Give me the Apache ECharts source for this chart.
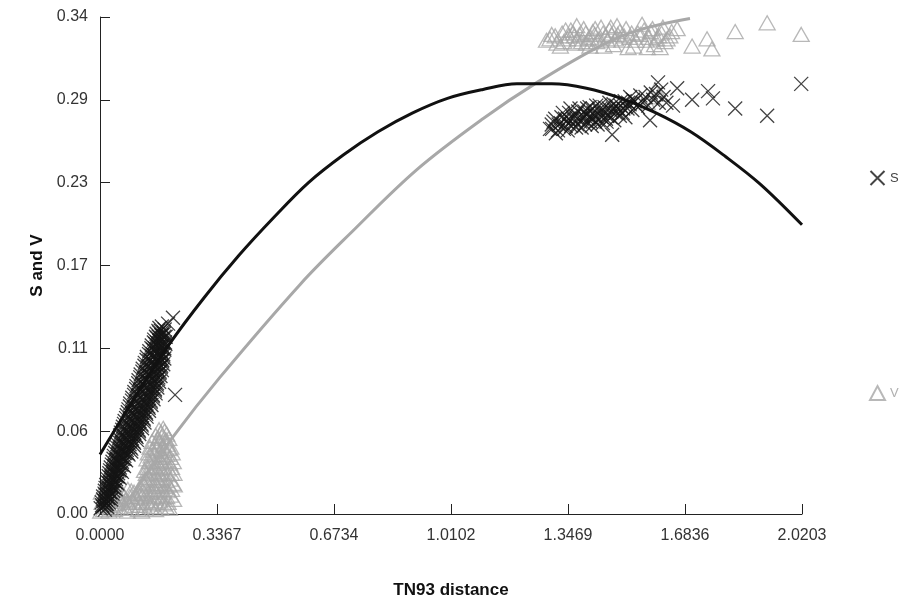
<!DOCTYPE html>
<html>
<head>
<meta charset="utf-8">
<script src="https://cdn.jsdelivr.net/npm/echarts@6/dist/echarts.min.js"></script>
<style>
  html, body { margin: 0; padding: 0; background: #fff; }
  #chart { width: 906px; height: 604px; }
</style>
</head>
<body>
<div id="chart"></div>
<script>
// tick labels as printed on the original axes
const xTickLabels = ['0.0000', '0.3367', '0.6734', '1.0102', '1.3469', '1.6836', '2.0203'];
const yTickLabels = ['0.00', '0.06', '0.11', '0.17', '0.23', '0.29', '0.34'];

// S values (x = TN93 distance, y = S), lower cluster
const sLow = [
  [0.002,0.004],[0.008,0.005],[0.014,0.003],[0.020,0.005],
  [0.005,0.008],[0.012,0.009],[0.018,0.007],[0.025,0.008],
  [0.009,0.012],[0.016,0.013],[0.023,0.011],[0.031,0.012],
  [0.014,0.016],[0.022,0.017],[0.030,0.015],[0.038,0.016],
  [0.018,0.020],[0.026,0.021],[0.034,0.019],[0.041,0.020],[0.046,0.022],
  [0.022,0.024],[0.031,0.025],[0.039,0.023],[0.046,0.024],[0.052,0.026],
  [0.027,0.028],[0.036,0.029],[0.044,0.027],[0.052,0.028],[0.059,0.030],
  [0.031,0.032],[0.040,0.033],[0.049,0.031],[0.057,0.032],[0.065,0.034],
  [0.036,0.036],[0.046,0.037],[0.055,0.035],[0.063,0.036],[0.071,0.038],
  [0.040,0.040],[0.051,0.041],[0.061,0.039],[0.070,0.040],[0.079,0.042],
  [0.045,0.044],[0.056,0.045],[0.067,0.043],[0.077,0.044],[0.087,0.046],
  [0.050,0.048],[0.062,0.049],[0.074,0.047],[0.085,0.048],[0.096,0.050],
  [0.055,0.052],[0.068,0.053],[0.080,0.051],[0.092,0.052],[0.103,0.054],
  [0.060,0.056],[0.074,0.057],[0.087,0.055],[0.099,0.056],[0.111,0.058],
  [0.066,0.060],[0.080,0.061],[0.094,0.059],[0.107,0.060],[0.119,0.062],
  [0.071,0.064],[0.086,0.065],[0.100,0.063],[0.113,0.064],[0.125,0.066],
  [0.077,0.068],[0.092,0.069],[0.106,0.067],[0.119,0.068],[0.132,0.070],
  [0.082,0.072],[0.097,0.073],[0.112,0.071],[0.125,0.072],[0.139,0.074],
  [0.087,0.076],[0.103,0.077],[0.118,0.075],[0.132,0.076],[0.146,0.078],
  [0.093,0.080],[0.109,0.081],[0.124,0.079],[0.138,0.080],[0.152,0.082],
  [0.099,0.084],[0.115,0.085],[0.130,0.083],[0.144,0.084],[0.158,0.086],
  [0.105,0.088],[0.121,0.089],[0.136,0.087],[0.150,0.088],[0.164,0.090],
  [0.111,0.092],[0.126,0.093],[0.141,0.091],[0.155,0.092],[0.168,0.094],
  [0.117,0.096],[0.132,0.097],[0.146,0.095],[0.160,0.096],[0.172,0.098],
  [0.123,0.100],[0.137,0.101],[0.151,0.099],[0.164,0.100],[0.176,0.102],
  [0.129,0.104],[0.142,0.105],[0.156,0.103],[0.168,0.104],[0.179,0.106],
  [0.135,0.108],[0.148,0.109],[0.161,0.107],[0.172,0.108],[0.182,0.110],
  [0.142,0.112],[0.153,0.113],[0.165,0.111],[0.175,0.112],[0.185,0.114],
  [0.149,0.116],[0.159,0.117],[0.169,0.115],[0.178,0.116],[0.187,0.118],
  [0.156,0.120],[0.164,0.121],[0.173,0.119],[0.181,0.120],[0.189,0.122],
  [0.163,0.124],[0.170,0.125],[0.177,0.123],[0.184,0.124],
  [0.171,0.128],[0.178,0.129],[0.186,0.127],
  [0.196,0.131],[0.210,0.135],[0.216,0.082],
  [0.006,0.006],[0.013,0.006],[0.020,0.007],
  [0.009,0.010],[0.017,0.010],[0.025,0.011],[0.032,0.010],
  [0.013,0.014],[0.020,0.014],[0.028,0.015],[0.036,0.014],
  [0.016,0.018],[0.024,0.018],[0.031,0.019],[0.039,0.018],[0.045,0.017],
  [0.021,0.022],[0.029,0.022],[0.036,0.023],[0.044,0.022],[0.050,0.021],
  [0.025,0.026],[0.033,0.026],[0.041,0.027],[0.049,0.026],[0.056,0.025],
  [0.029,0.030],[0.038,0.030],[0.047,0.031],[0.055,0.030],[0.063,0.029],
  [0.034,0.034],[0.043,0.034],[0.052,0.035],[0.061,0.034],[0.069,0.033],
  [0.039,0.038],[0.048,0.038],[0.058,0.039],[0.067,0.038],[0.075,0.037],
  [0.044,0.042],[0.054,0.042],[0.064,0.043],[0.073,0.042],[0.082,0.041],[0.090,0.043],
  [0.048,0.046],[0.059,0.046],[0.070,0.047],[0.080,0.046],[0.090,0.045],[0.098,0.047],
  [0.053,0.050],[0.064,0.050],[0.076,0.051],[0.087,0.050],[0.098,0.049],[0.106,0.051],
  [0.058,0.054],[0.070,0.054],[0.082,0.055],[0.094,0.054],[0.105,0.053],[0.113,0.055],
  [0.064,0.058],[0.077,0.058],[0.089,0.059],[0.101,0.058],[0.112,0.057],[0.121,0.059],
  [0.069,0.062],[0.082,0.062],[0.095,0.063],[0.108,0.062],[0.120,0.061],[0.128,0.063],
  [0.075,0.066],[0.088,0.066],[0.101,0.067],[0.114,0.066],[0.126,0.065],[0.134,0.067],
  [0.080,0.070],[0.094,0.070],[0.107,0.071],[0.120,0.070],[0.133,0.069],[0.141,0.071],
  [0.086,0.074],[0.100,0.074],[0.113,0.075],[0.127,0.074],[0.140,0.073],[0.148,0.075],
  [0.092,0.078],[0.106,0.078],[0.120,0.079],[0.133,0.078],[0.146,0.077],[0.154,0.079],
  [0.098,0.082],[0.112,0.082],[0.126,0.083],[0.139,0.082],[0.152,0.081],[0.160,0.083],
  [0.104,0.086],[0.118,0.086],[0.132,0.087],[0.145,0.086],[0.158,0.085],[0.165,0.087],
  [0.110,0.090],[0.124,0.090],[0.138,0.091],[0.151,0.090],[0.163,0.089],[0.170,0.091],
  [0.116,0.094],[0.130,0.094],[0.143,0.095],[0.156,0.094],[0.167,0.093],[0.174,0.095],
  [0.122,0.098],[0.135,0.098],[0.148,0.099],[0.160,0.098],[0.171,0.097],[0.178,0.099],
  [0.128,0.102],[0.141,0.102],[0.153,0.103],[0.165,0.102],[0.175,0.101],[0.182,0.103],
  [0.134,0.106],[0.146,0.106],[0.158,0.107],[0.169,0.106],[0.179,0.105],[0.185,0.107],
  [0.141,0.110],[0.152,0.110],[0.163,0.111],[0.173,0.110],[0.182,0.109],
  [0.148,0.114],[0.158,0.114],[0.168,0.115],[0.177,0.114],[0.185,0.113],
  [0.155,0.118],[0.164,0.118],[0.172,0.119],[0.180,0.118],[0.188,0.117],
  [0.161,0.122],[0.169,0.122],[0.177,0.123],[0.185,0.122],
  [0.168,0.126],[0.175,0.126],[0.183,0.125]
];

// S values, upper cluster and the scattered points to its right
const sHigh = [
  [1.295,0.265],[1.305,0.270],[1.312,0.262],[1.320,0.268],[1.328,0.273],[1.335,0.265],
  [1.342,0.270],[1.350,0.276],[1.356,0.267],[1.362,0.272],[1.370,0.266],[1.376,0.277],
  [1.382,0.270],[1.390,0.274],[1.396,0.268],[1.402,0.279],[1.408,0.273],[1.415,0.267],
  [1.420,0.276],[1.428,0.281],[1.434,0.271],[1.440,0.276],[1.447,0.269],[1.452,0.280],
  [1.460,0.274],[1.466,0.283],[1.472,0.277],[1.480,0.271],[1.486,0.281],[1.492,0.276],
  [1.500,0.284],[1.506,0.279],[1.512,0.273],[1.520,0.283],[1.526,0.287],[1.532,0.278],
  [1.540,0.284],[1.548,0.280],[1.555,0.288],[1.562,0.283],[1.570,0.287],[1.578,0.281],
  [1.585,0.290],[1.592,0.285],[1.600,0.289],[1.608,0.283],[1.615,0.292],[1.622,0.287],
  [1.630,0.283],[1.366,0.274],[1.386,0.266],[1.398,0.275],[1.418,0.272],[1.436,0.278],
  [1.456,0.272],[1.476,0.279],[1.496,0.274],[1.338,0.272],[1.346,0.264],[1.409,0.280],
  [1.425,0.270],
  [1.300,0.268],[1.310,0.272],[1.318,0.264],[1.326,0.269],[1.332,0.276],[1.340,0.267],
  [1.348,0.272],[1.354,0.279],[1.360,0.269],[1.368,0.275],[1.374,0.268],[1.380,0.279],
  [1.388,0.272],[1.394,0.277],[1.400,0.270],[1.406,0.276],[1.412,0.270],[1.418,0.279],
  [1.424,0.274],[1.432,0.268],[1.438,0.281],[1.444,0.273],[1.450,0.277],[1.458,0.270],
  [1.464,0.279],[1.470,0.273],[1.478,0.282],[1.484,0.276],[1.490,0.279],[1.498,0.281],
  [1.504,0.276],[1.510,0.284],[1.518,0.279],[1.524,0.282],[1.534,0.285],[1.544,0.281],
  [1.606,0.297],[1.661,0.293],[1.704,0.285],[1.750,0.291],[1.764,0.286],[1.828,0.279],
  [1.920,0.274],[2.018,0.296],[1.474,0.261],[1.583,0.271],[1.301,0.265],[1.649,0.281]
];

// V values, lower cluster
const vLow = [
  [0.002,0.002],[0.006,0.008],[0.010,0.003],[0.014,0.012],[0.018,0.005],[0.022,0.009],
  [0.026,0.002],[0.030,0.013],[0.034,0.006],[0.038,0.010],[0.042,0.003],[0.046,0.014],
  [0.050,0.007],[0.054,0.011],[0.058,0.004],[0.062,0.009],[0.066,0.013],[0.070,0.005],
  [0.074,0.010],[0.078,0.002],[0.082,0.008],[0.086,0.012],[0.090,0.004],[0.094,0.009],
  [0.098,0.015],[0.102,0.006],[0.106,0.011],[0.110,0.003],[0.114,0.008],[0.004,0.015],
  [0.020,0.018],[0.040,0.017],[0.060,0.016],[0.080,0.017],
  [0.030,0.004],[0.050,0.015],[0.070,0.012],[0.090,0.016],[0.110,0.014],[0.120,0.002],
  [0.176,0.056],[0.186,0.057],
  [0.168,0.052],[0.178,0.053],[0.190,0.051],
  [0.160,0.048],[0.171,0.049],[0.182,0.047],[0.194,0.048],
  [0.153,0.044],[0.164,0.045],[0.175,0.043],[0.186,0.044],[0.198,0.045],
  [0.147,0.040],[0.158,0.041],[0.170,0.039],[0.181,0.040],[0.193,0.041],[0.203,0.039],
  [0.142,0.036],[0.153,0.037],[0.165,0.035],[0.176,0.036],[0.188,0.037],[0.200,0.035],
  [0.137,0.032],[0.149,0.033],[0.160,0.031],[0.172,0.032],[0.184,0.033],[0.196,0.031],[0.206,0.032],
  [0.133,0.028],[0.145,0.029],[0.157,0.027],[0.169,0.028],[0.181,0.029],[0.193,0.027],[0.205,0.028],
  [0.130,0.024],[0.142,0.025],[0.154,0.023],[0.166,0.024],[0.178,0.025],[0.190,0.023],[0.202,0.024],
  [0.126,0.020],[0.138,0.021],[0.150,0.019],[0.162,0.020],[0.174,0.021],[0.186,0.019],[0.198,0.020],[0.210,0.021],
  [0.122,0.016],[0.134,0.017],[0.146,0.015],[0.158,0.016],[0.170,0.017],[0.182,0.015],[0.194,0.016],[0.206,0.017],
  [0.120,0.012],[0.132,0.013],[0.144,0.011],[0.156,0.012],[0.168,0.013],[0.180,0.011],[0.192,0.012],[0.204,0.013],
  [0.124,0.008],[0.136,0.009],[0.148,0.007],[0.160,0.008],[0.172,0.009],[0.184,0.007],[0.196,0.008],
  [0.130,0.004],[0.145,0.005],[0.160,0.003],[0.175,0.004],[0.190,0.005],
  [0.150,0.050],[0.160,0.054],[0.170,0.058],[0.182,0.059],[0.192,0.055],[0.198,0.052],
  [0.204,0.046],[0.144,0.046],[0.139,0.042],[0.135,0.038],[0.128,0.030],[0.123,0.022],
  [0.118,0.014],[0.115,0.006],[0.208,0.042],[0.211,0.036],[0.213,0.028],[0.214,0.020],
  [0.212,0.010],[0.200,0.004]
];

// V values, upper cluster and the scattered points to its right
const vHigh = [
  [1.285,0.326],[1.300,0.330],[1.315,0.324],[1.330,0.331],[1.345,0.327],[1.355,0.333],
  [1.368,0.324],[1.380,0.330],[1.392,0.334],[1.405,0.327],[1.418,0.332],[1.430,0.325],
  [1.442,0.335],[1.455,0.329],[1.466,0.333],[1.478,0.323],[1.490,0.330],[1.502,0.326],
  [1.514,0.334],[1.525,0.328],[1.536,0.322],[1.548,0.331],[1.560,0.337],[1.572,0.326],
  [1.584,0.332],[1.596,0.323],[1.608,0.329],[1.620,0.335],[1.632,0.327],[1.645,0.332],
  [1.325,0.322],[1.372,0.336],[1.410,0.322],[1.450,0.322],[1.488,0.336],[1.520,0.321],
  [1.575,0.321],[1.612,0.321],
  [1.335,0.325],[1.350,0.329],[1.362,0.331],[1.376,0.327],[1.386,0.325],[1.398,0.331],
  [1.412,0.328],[1.424,0.330],[1.436,0.327],[1.448,0.331],[1.460,0.326],[1.472,0.330],
  [1.484,0.327],[1.496,0.332],[1.508,0.329],[1.530,0.331],[1.542,0.326],[1.555,0.330],
  [1.566,0.333],[1.580,0.328],[1.590,0.334],[1.602,0.327],[1.616,0.331],[1.626,0.325],
  [1.640,0.329],[1.295,0.327],[1.310,0.329],[1.340,0.333],[1.365,0.329],[1.400,0.324],
  [1.425,0.334],[1.470,0.335],
  [1.661,0.334],[1.704,0.322],[1.747,0.327],[1.761,0.320],[1.828,0.332],[1.920,0.338],
  [2.018,0.330],
  [1.585,0.287],[1.598,0.292],[1.610,0.289],[1.575,0.283]
];

// fitted curves
const sFitX = [0, 0.1, 0.2, 0.3, 0.4, 0.5, 0.6, 0.7, 0.8, 0.9, 1.0, 1.1, 1.2, 1.3, 1.4, 1.5, 1.6, 1.7, 1.8, 1.9, 2.0203];
const sFitY = [0.041, 0.080, 0.117, 0.149, 0.178, 0.204, 0.228, 0.247, 0.263, 0.276, 0.286, 0.292, 0.296, 0.296, 0.293, 0.286, 0.276, 0.263, 0.246, 0.227, 0.199];
const vFitX = [0.06, 0.21, 0.345, 0.576, 0.72, 0.912, 1.102, 1.258, 1.439, 1.55, 1.698];
const vFitY = [0.002, 0.053, 0.094, 0.158, 0.193, 0.237, 0.272, 0.297, 0.322, 0.333, 0.341];

const crossIcon = 'path://M0,0L10,10M10,0L0,10';
const xMax = 2.0203;
const yMax = 0.342;

let chart = echarts.init(document.getElementById('chart'));
let option = {
    animation: false,
    textStyle: { fontFamily: 'Liberation Sans, Arial, sans-serif' },
    grid: { left: 100, right: 104, top: 17, bottom: 86 },
    legend: {
        orient: 'vertical',
        left: 864,
        top: 165,
        itemGap: 199,
        itemWidth: 15,
        itemHeight: 14,
        textStyle: { fontSize: 13 },
        data: [
            { name: 'S', textStyle: { color: '#444' } },
            { name: 'V', textStyle: { color: '#b0b0b0' } }
        ]
    },
    xAxis: {
        type: 'value',
        min: 0,
        max: xMax,
        interval: xMax / 6,
        name: 'TN93 distance',
        nameLocation: 'middle',
        nameGap: 68,
        nameTextStyle: { fontSize: 17, fontWeight: 'bold', color: '#111' },
        axisLine: { lineStyle: { color: '#222', width: 1 } },
        axisTick: { inside: true, length: 10, lineStyle: { color: '#222' } },
        axisLabel: {
            fontSize: 16,
            color: '#333',
            margin: 14,
            formatter: (v, i) => xTickLabels[i]
        },
        splitLine: { show: false }
    },
    yAxis: {
        type: 'value',
        min: 0,
        max: yMax,
        interval: yMax / 6,
        name: 'S and V',
        nameLocation: 'middle',
        nameGap: 54,
        nameTextStyle: { fontSize: 17, fontWeight: 'bold', color: '#111' },
        axisLine: { show: true, lineStyle: { color: '#222', width: 1 } },
        axisTick: { show: true, inside: true, length: 10, lineStyle: { color: '#222' } },
        axisLabel: {
            fontSize: 16,
            color: '#333',
            margin: 12,
            formatter: (v, i) => yTickLabels[i]
        },
        splitLine: { show: false }
    },
    series: [
        {
            name: 'V',
            type: 'scatter',
            symbol: 'triangle',
            symbolSize: [16, 14],
            data: vLow.concat(vHigh),
            itemStyle: { color: 'rgba(0,0,0,0)', borderColor: '#a6a6a6', borderWidth: 1.3 }
        },
        {
            name: 'S',
            type: 'scatter',
            symbol: crossIcon,
            symbolSize: 14,
            data: sLow.concat(sHigh),
            itemStyle: { color: 'rgba(0,0,0,0)', borderColor: '#151515', borderWidth: 1.3 }
        },
        {
            name: 'V fit',
            type: 'line',
            smooth: 0.35,
            showSymbol: false,
            data: vFitX.map((x, i) => [x, vFitY[i]]),
            lineStyle: { color: '#a8a8a8', width: 3 }
        },
        {
            name: 'S fit',
            type: 'line',
            smooth: 0.35,
            showSymbol: false,
            data: sFitX.map((x, i) => [x, sFitY[i]]),
            lineStyle: { color: '#111', width: 3 }
        }
    ]
};
chart.setOption(option);
</script>
</body>
</html>
